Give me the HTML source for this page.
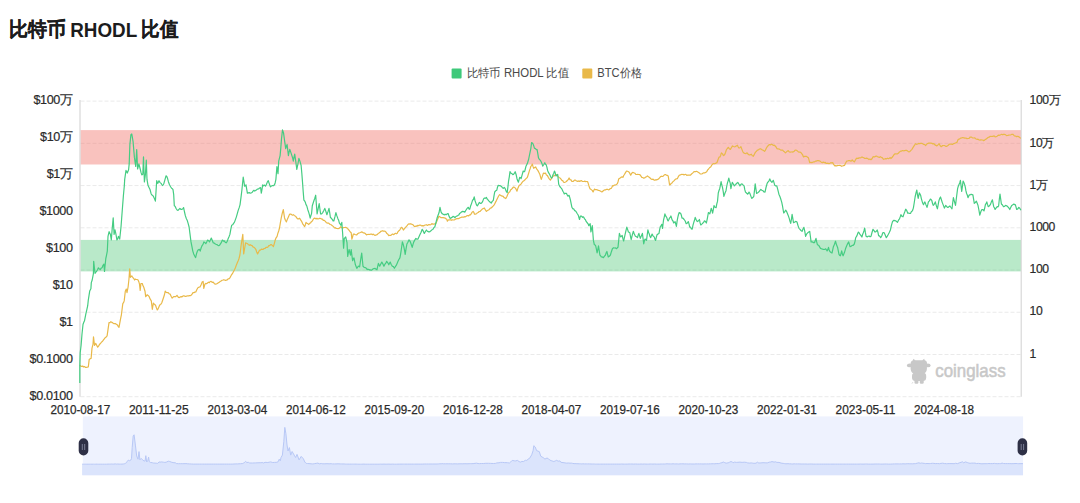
<!DOCTYPE html>
<html><head><meta charset="utf-8">
<style>
html,body{margin:0;padding:0;background:#fff;}
body{width:1080px;height:503px;overflow:hidden;position:relative;font-family:"Liberation Sans",sans-serif;}
svg{position:absolute;left:0;top:0;}
.g{stroke:#eaeaea;stroke-width:1;stroke-dasharray:4 2;}
.yl{font-size:12.6px;fill:#2a2a2a;letter-spacing:-0.35px;stroke:#2a2a2a;stroke-width:0.2px;}
.yr{font-size:12.2px;fill:#2a2a2a;letter-spacing:-0.45px;stroke:#2a2a2a;stroke-width:0.2px;}
.xl{font-size:12.3px;fill:#2a2a2a;stroke:#2a2a2a;stroke-width:0.25px;}
.t{font-size:20px;font-weight:bold;fill:#1c1c1c;}
.lg{font-size:12px;fill:#4a4a4a;}
</style></head><body>
<svg width="1080" height="503" viewBox="0 0 1080 503">
<text x="8.9" y="35.5" class="t" stroke="#1c1c1c" stroke-width="0.2" font-size="19.5px" textLength="56.9" lengthAdjust="spacingAndGlyphs">比特币</text>
<text x="70.2" y="36.6" class="t" textLength="67" lengthAdjust="spacingAndGlyphs">RHODL</text>
<text x="141" y="35.6" class="t" stroke="#1c1c1c" stroke-width="0.2" font-size="19.5px" textLength="37" lengthAdjust="spacingAndGlyphs">比值</text>
<rect x="451.6" y="68.6" width="10" height="10" rx="1" fill="#3ec97a"/>
<text x="466.6" y="77.4" class="lg" textLength="102.6" lengthAdjust="spacingAndGlyphs">比特币 RHODL 比值</text>
<rect x="582.3" y="68.5" width="10" height="10" rx="1" fill="#e9b949"/>
<text x="597.3" y="77.4" class="lg" textLength="44.6" lengthAdjust="spacingAndGlyphs">BTC价格</text>
<line x1="80.5" y1="101.10" x2="1021.0" y2="101.10" class="g"/>
<line x1="80.5" y1="143.33" x2="1021.0" y2="143.33" class="g"/>
<line x1="80.5" y1="185.56" x2="1021.0" y2="185.56" class="g"/>
<line x1="80.5" y1="227.79" x2="1021.0" y2="227.79" class="g"/>
<line x1="80.5" y1="270.01" x2="1021.0" y2="270.01" class="g"/>
<line x1="80.5" y1="312.24" x2="1021.0" y2="312.24" class="g"/>
<line x1="80.5" y1="354.47" x2="1021.0" y2="354.47" class="g"/>
<line x1="80.5" y1="396.70" x2="1021.0" y2="396.70" class="g"/>
<rect x="80.5" y="130.1" width="940.5" height="34.4" fill="rgba(242,120,110,0.45)"/>
<rect x="80.5" y="239.9" width="940.5" height="31.5" fill="rgba(80,200,120,0.4)"/>
<line x1="80" y1="100.1" x2="80" y2="396.7" stroke="#d4d4d4" stroke-width="1.1"/>
<line x1="1021.2" y1="100.1" x2="1021.2" y2="396.7" stroke="#d4d4d4" stroke-width="1.1"/>
<polyline points="79.8,365.1 80.7,366.1 81.7,366.5 82.6,366.0 83.5,367.0 84.5,366.5 85.4,367.4 86.4,367.3 87.3,367.2 88.3,367.0 89.2,359.4 90.2,358.7 91.1,358.5 92.0,348.1 93.0,344.3 93.5,336.8 94.5,345.3 95.8,343.4 96.8,345.4 97.7,347.2 98.7,345.9 99.6,344.3 100.5,343.5 101.5,342.1 102.4,341.5 103.3,340.2 104.3,338.8 105.2,337.7 106.2,337.0 107.1,335.8 108.0,329.7 109.0,322.6 110.0,322.6 110.9,321.7 111.8,322.4 112.8,322.9 113.7,323.6 114.7,323.6 115.6,323.7 116.6,324.5 117.4,324.9 118.2,326.4 119.0,327.4 120.0,321.8 120.7,318.1 121.4,314.8 122.1,309.1 122.8,303.7 123.5,302.7 124.2,300.9 125.3,291.2 126.3,289.1 127.0,292.6 128.1,287.0 129.0,278.7 129.7,268.9 130.4,277.3 131.1,276.6 131.8,275.9 132.5,277.0 133.2,278.0 133.9,278.7 134.6,280.0 135.3,279.1 136.0,279.3 137.1,279.5 138.1,280.0 138.8,281.7 139.5,284.2 140.2,290.5 140.9,283.5 141.6,283.5 142.3,283.5 143.0,285.8 143.7,287.0 145.0,291.2 145.7,296.7 146.4,295.9 147.1,294.7 148.1,295.4 149.2,296.7 150.2,299.2 151.3,300.9 152.3,309.3 153.4,303.0 154.4,304.4 155.5,305.1 156.4,307.8 157.3,310.0 158.1,308.8 158.9,307.0 159.7,305.1 160.7,304.4 161.7,303.0 162.8,299.7 163.8,296.7 164.5,294.5 165.2,291.2 166.2,292.4 167.3,292.6 168.2,292.7 169.2,293.8 170.1,294.0 171.1,296.3 172.2,298.1 172.9,297.4 173.6,296.7 174.6,296.7 175.7,296.7 177.0,295.3 177.7,296.3 178.4,297.4 179.3,297.6 180.3,296.9 181.2,296.7 182.1,296.8 183.1,295.9 184.0,295.8 184.9,296.3 185.9,296.4 186.8,296.0 187.7,295.8 188.7,295.8 189.6,295.6 190.6,295.6 191.7,294.7 193.0,292.6 193.9,292.6 194.9,292.1 195.8,291.9 196.9,289.5 197.9,287.7 198.9,287.2 200.0,287.0 201.1,284.8 202.1,282.1 203.1,281.4 203.8,288.4 204.9,284.2 205.8,283.4 206.8,283.7 207.7,282.8 208.5,282.2 209.4,282.6 210.2,281.5 211.1,281.4 212.1,282.3 213.2,282.1 214.2,283.4 215.3,284.2 216.4,283.9 217.4,283.5 218.3,282.8 219.3,282.3 220.2,281.4 221.1,281.0 222.1,280.3 223.0,280.0 223.8,279.7 224.6,280.0 225.5,280.5 226.3,280.1 227.1,280.0 228.1,278.9 229.2,278.7 230.2,277.3 231.3,275.2 232.4,273.7 233.4,271.7 234.4,270.0 235.5,267.5 236.6,264.4 237.6,262.0 238.3,260.5 239.0,258.5 239.9,255.0 240.9,247.0 241.9,240.0 242.8,234.4 243.7,253.9 244.6,248.5 245.6,242.8 246.5,243.2 247.5,243.7 248.4,244.6 249.3,245.3 250.2,244.7 251.2,245.4 252.1,245.6 253.0,246.9 253.9,247.2 254.9,248.1 255.8,249.3 256.7,252.0 257.6,253.9 258.6,252.0 259.5,250.2 260.4,250.2 261.4,249.2 262.3,249.4 263.2,249.3 264.1,248.5 265.0,248.5 266.0,247.4 266.9,247.4 267.8,247.2 268.8,245.5 269.7,245.6 270.6,244.6 271.5,244.7 272.5,245.6 273.4,246.5 274.3,243.6 275.2,240.0 276.1,237.8 277.1,236.3 277.9,233.2 278.7,231.0 279.5,228.0 280.4,222.7 281.3,217.7 282.3,213.2 283.3,209.7 284.5,217.7 285.4,220.3 286.4,221.9 287.5,218.9 288.6,216.6 289.3,214.8 290.0,214.0 290.8,214.1 291.7,214.7 292.5,215.1 293.4,214.7 294.2,215.4 295.1,216.1 295.9,216.6 296.8,218.0 297.7,218.9 298.7,218.8 299.7,218.2 300.8,220.2 301.8,221.7 302.7,223.8 303.7,225.2 304.6,226.6 305.3,224.9 306.0,222.4 306.9,223.3 307.9,223.8 308.8,224.5 309.7,223.3 310.6,222.9 311.4,221.7 312.3,221.0 313.3,219.2 314.3,218.2 315.2,218.3 316.1,219.0 316.9,218.3 317.8,218.9 318.9,218.6 319.9,218.2 320.7,218.5 321.6,219.1 322.4,219.1 323.3,220.4 324.1,220.3 325.1,221.1 326.2,222.4 327.0,222.9 327.9,223.2 328.7,223.1 329.6,224.1 330.4,224.5 331.2,224.8 332.0,225.4 332.9,226.1 333.7,226.9 334.5,228.0 335.4,227.7 336.2,228.5 337.1,228.5 338.0,228.7 338.9,228.5 339.9,227.8 340.8,226.6 341.9,227.8 342.9,228.0 343.8,227.5 344.8,227.5 345.7,227.3 346.6,227.7 347.5,228.7 348.4,229.3 349.3,230.6 350.3,232.0 351.2,232.8 351.9,239.1 352.6,236.9 353.3,234.2 354.2,234.1 355.1,234.5 355.9,234.8 356.8,234.9 357.7,233.7 358.7,233.0 359.6,232.8 360.5,232.5 361.5,231.9 362.4,232.1 363.2,232.9 364.0,232.9 364.9,233.3 365.7,234.0 366.5,234.9 367.3,234.5 368.2,234.3 369.0,234.5 369.9,234.3 370.7,234.2 371.6,234.1 372.6,234.6 373.5,234.2 374.4,235.1 375.4,235.3 376.3,234.9 377.2,234.6 378.1,233.6 379.0,233.1 379.8,232.6 380.7,231.4 381.6,231.2 382.5,230.7 383.4,231.1 384.2,231.0 385.1,231.3 386.0,232.1 386.9,233.6 387.9,234.3 388.8,235.6 389.6,235.3 390.5,235.5 391.3,234.9 392.2,234.2 393.0,234.2 393.8,234.6 394.6,233.8 395.5,233.3 396.3,233.8 397.1,233.5 397.9,231.8 398.8,230.8 399.6,230.2 400.5,228.7 401.3,227.3 402.4,228.1 403.4,230.0 404.3,228.9 405.1,227.9 406.0,226.9 406.9,225.9 407.9,224.5 409.0,223.8 409.9,224.1 410.7,223.7 411.5,224.1 412.4,224.5 413.3,225.1 414.3,226.4 415.2,226.6 416.0,225.9 416.9,226.3 417.7,225.4 418.6,225.6 419.4,225.2 420.2,225.2 421.1,225.4 421.9,225.9 422.8,225.6 423.6,225.9 424.5,225.3 425.4,225.0 426.4,224.7 427.3,225.4 428.2,224.9 429.1,224.5 430.0,224.9 431.0,224.5 431.9,223.6 432.8,224.2 433.8,224.2 434.7,223.8 435.6,224.0 436.6,221.8 437.7,219.1 439.0,216.3 440.1,217.0 441.1,217.7 442.1,217.5 443.2,217.7 444.2,217.9 445.3,218.1 446.0,218.9 446.7,219.1 447.4,221.2 448.1,220.2 448.8,219.8 449.7,219.8 450.6,219.8 451.4,220.3 452.3,219.8 453.1,220.0 454.0,219.9 454.9,219.6 455.7,219.1 456.6,218.7 457.4,218.5 458.3,218.6 459.2,218.4 460.1,217.7 461.1,217.4 462.0,217.0 462.8,217.1 463.7,217.2 464.5,216.7 465.4,216.8 466.2,216.3 467.0,215.6 467.9,215.6 468.7,216.0 469.6,214.8 470.4,214.9 471.3,213.6 472.2,212.1 473.1,211.4 473.8,212.3 474.5,214.2 475.4,214.2 476.4,213.8 477.3,212.8 478.2,212.5 479.2,211.5 480.1,211.4 481.0,210.3 482.0,209.3 482.9,208.7 483.6,208.5 484.3,208.0 485.4,209.9 486.4,211.4 487.4,210.6 488.4,210.0 489.3,209.4 490.3,208.2 491.2,208.0 492.2,207.0 493.3,205.9 494.4,204.6 495.4,202.4 496.4,200.6 497.5,198.2 498.6,196.0 499.6,194.7 500.5,195.2 501.5,195.9 502.4,196.1 503.2,196.4 504.1,197.7 504.9,197.9 505.8,198.5 506.9,196.5 507.9,194.0 508.8,192.5 509.8,191.7 510.7,189.8 511.6,189.2 512.6,188.0 513.5,187.0 514.5,187.3 515.6,188.4 516.3,189.7 517.0,191.2 518.0,187.9 519.0,185.7 519.9,184.9 520.9,184.3 521.8,182.9 522.8,181.5 523.9,180.8 525.0,179.8 526.0,178.7 526.7,178.0 527.4,177.3 528.5,173.7 529.5,170.4 530.2,168.5 530.9,166.2 531.6,165.6 532.3,164.1 533.0,166.4 533.7,168.3 534.7,167.6 535.7,166.9 536.8,169.2 537.8,170.4 538.8,172.3 539.9,174.5 540.6,177.2 541.3,179.4 542.3,176.4 543.4,173.1 544.5,173.4 545.5,173.1 546.4,174.9 547.4,175.6 548.3,177.3 549.3,178.8 550.4,180.1 551.3,178.6 552.2,177.5 553.1,175.9 554.0,176.0 555.0,175.1 555.9,174.5 556.7,174.7 557.6,175.9 558.4,176.8 559.3,177.7 560.1,178.0 561.0,179.2 561.9,180.4 562.7,180.6 563.6,182.2 564.5,182.5 565.5,182.0 566.4,181.5 567.3,180.5 568.2,179.6 569.1,178.0 570.0,179.6 571.0,179.9 571.9,181.5 572.8,181.5 573.6,181.1 574.5,180.1 575.4,180.1 576.2,180.8 577.0,181.1 577.8,181.5 578.7,180.9 579.7,181.4 580.6,180.8 581.5,180.6 582.4,181.4 583.3,181.5 584.1,181.4 585.0,181.2 585.8,181.6 586.7,181.5 587.5,181.5 588.2,183.3 588.9,185.7 589.6,187.9 590.3,189.1 591.2,189.6 592.2,190.4 593.1,191.9 593.8,190.5 594.5,189.1 595.4,189.7 596.4,189.7 597.3,189.8 598.3,190.4 599.3,190.5 600.2,191.0 601.2,191.6 602.1,191.9 603.0,191.0 604.0,190.2 604.9,189.8 605.8,189.8 606.6,189.3 607.5,189.3 608.4,189.8 609.3,189.6 610.3,188.5 611.2,188.4 611.9,187.3 612.6,185.7 613.5,185.8 614.5,185.1 615.4,185.0 616.4,184.5 617.4,183.6 618.1,181.5 618.8,178.7 619.8,178.4 620.9,177.3 622.0,176.9 623.0,177.3 623.7,175.5 624.4,174.5 625.5,172.6 626.5,171.0 627.5,171.3 628.6,171.7 629.7,173.2 630.7,175.2 631.7,173.3 632.7,172.4 633.8,172.8 634.8,173.1 635.8,174.3 636.9,174.5 637.8,174.4 638.8,174.5 639.7,174.5 640.8,175.8 641.8,177.3 642.7,177.5 643.7,178.2 644.6,178.0 645.5,177.1 646.5,176.8 647.4,175.9 648.3,176.6 649.2,177.3 650.1,178.0 651.2,179.2 652.2,179.4 653.1,179.2 654.1,180.2 655.0,180.1 655.9,179.7 656.9,179.8 657.8,179.4 658.7,178.8 659.7,177.7 660.6,176.6 661.5,176.2 662.5,176.5 663.4,175.9 664.4,174.8 665.4,174.5 666.3,175.1 667.3,175.3 668.2,175.9 668.9,180.5 669.6,185.0 670.3,184.7 671.0,183.6 672.0,182.9 673.1,181.5 674.2,180.6 675.2,179.4 676.2,178.8 677.3,178.7 678.3,176.7 679.4,175.2 680.3,174.9 681.2,174.4 682.1,174.5 683.0,174.3 684.0,175.0 684.9,174.5 685.8,174.3 686.8,175.3 687.7,175.2 688.6,175.1 689.6,175.1 690.5,175.2 691.5,174.0 692.6,173.1 693.7,171.9 694.7,171.7 695.6,171.7 696.5,171.3 697.4,171.7 698.3,172.3 699.3,172.9 700.2,173.8 701.1,174.0 702.1,173.8 703.0,173.1 703.9,172.8 704.9,172.8 705.8,172.4 706.7,171.7 707.7,169.9 708.6,169.0 709.7,167.5 710.7,166.9 711.7,165.2 712.7,164.1 713.6,163.5 714.6,163.8 715.5,163.4 716.2,162.9 716.9,162.7 718.0,159.7 719.0,157.1 720.0,157.0 720.7,155.2 721.4,152.8 722.5,153.9 723.5,155.6 724.2,155.2 724.9,154.2 725.6,152.2 726.3,150.0 727.3,148.5 728.3,147.3 729.3,148.7 730.4,149.4 731.5,147.5 732.5,145.9 733.4,146.5 734.4,146.8 735.3,146.6 736.3,145.9 737.4,145.2 738.1,146.8 738.8,148.0 739.8,147.8 740.9,146.6 742.0,149.6 743.0,152.1 744.0,153.1 745.0,153.5 746.0,153.6 747.1,152.8 748.2,154.3 749.2,154.9 750.2,154.8 751.3,154.2 752.3,155.8 753.4,156.3 754.5,154.0 755.5,152.1 756.5,151.2 757.6,150.0 758.5,149.8 759.5,149.0 760.4,148.7 761.4,149.2 762.4,150.0 763.5,150.3 764.5,151.4 765.4,150.3 766.4,148.0 767.3,146.6 768.3,145.5 769.4,144.5 770.3,144.9 771.3,144.2 772.2,144.5 773.2,145.4 774.3,145.2 775.2,146.0 776.1,147.0 777.0,148.7 777.9,148.8 778.9,149.0 779.8,149.4 780.7,150.1 781.7,150.2 782.6,150.0 783.5,151.2 784.5,151.8 785.4,152.8 786.3,152.1 787.3,151.1 788.2,150.7 789.2,151.8 790.3,152.1 791.2,152.0 792.1,151.9 793.0,152.1 793.9,151.6 794.9,150.3 795.8,150.0 796.8,150.5 797.9,151.4 799.0,152.2 800.0,152.1 801.0,152.7 802.1,154.2 802.8,155.2 803.5,157.0 804.4,156.4 805.4,156.3 806.3,156.3 807.3,156.9 808.4,157.7 809.7,162.6 810.8,162.3 811.8,162.6 812.7,162.2 813.7,161.9 814.6,161.9 815.5,161.1 816.5,161.1 817.4,160.5 818.3,160.6 819.3,160.8 820.2,161.2 821.2,162.2 822.3,162.6 823.3,162.1 824.4,162.6 825.3,162.4 826.2,163.5 827.1,163.3 828.0,163.2 829.0,163.6 829.9,163.3 830.8,162.7 831.8,162.9 832.7,162.6 833.8,164.7 834.8,166.0 835.7,165.6 836.7,165.9 837.6,165.4 838.7,165.5 839.7,165.4 840.6,165.5 841.5,166.3 842.4,166.0 843.5,165.6 844.5,165.4 845.5,163.3 846.6,161.2 847.7,161.0 848.7,160.5 849.8,160.6 850.8,161.2 851.5,160.9 852.2,159.8 853.2,161.0 854.3,161.9 855.3,160.2 856.4,158.4 857.3,158.2 858.2,158.5 859.1,157.7 860.0,158.0 861.0,157.6 861.9,157.0 862.8,157.4 863.8,157.8 864.7,158.4 865.5,158.5 866.4,158.1 867.2,158.3 868.0,158.8 869.0,159.6 869.9,159.0 870.9,159.7 872.0,158.7 873.1,156.7 873.9,156.8 874.6,156.9 875.4,156.3 876.4,156.1 877.3,156.6 878.3,157.0 879.3,157.4 880.3,156.7 881.3,157.3 882.4,157.9 883.5,159.3 884.5,159.0 885.5,158.6 886.5,158.8 887.5,158.2 888.4,158.6 889.4,158.2 890.2,157.6 890.9,158.5 891.7,157.8 892.8,156.5 893.9,154.8 895.0,153.8 896.1,153.8 897.2,154.0 898.3,153.3 899.1,152.3 899.8,151.8 900.6,151.1 901.6,151.1 902.5,150.5 903.5,150.8 904.6,150.6 905.7,150.4 906.7,150.4 907.7,151.1 908.7,151.9 909.8,151.6 910.9,150.4 912.0,149.3 913.1,147.4 913.9,146.2 914.6,145.1 915.4,143.7 916.5,144.3 917.6,144.0 918.6,143.4 919.6,143.6 920.6,143.4 921.6,143.3 922.5,143.6 923.5,144.4 924.6,144.5 925.7,145.5 926.5,144.5 927.2,143.6 928.0,143.4 929.0,143.0 929.9,143.1 930.9,143.1 931.9,143.4 932.9,143.9 933.9,143.7 934.9,144.9 935.9,145.4 936.9,145.9 938.0,144.8 939.1,143.7 940.2,145.7 941.3,146.7 942.4,145.7 943.5,145.5 944.6,145.5 945.7,146.4 946.5,146.4 947.2,145.9 948.0,145.5 949.1,144.4 950.2,144.0 951.3,144.1 952.4,144.4 953.5,143.7 954.6,143.4 955.4,143.0 956.1,142.7 956.9,142.5 957.6,140.8 958.3,139.3 959.1,139.2 959.8,138.8 960.6,138.1 961.7,137.9 962.8,137.5 963.9,137.8 965.0,138.1 966.0,138.0 967.0,138.7 968.0,138.5 969.1,138.3 970.2,137.0 971.3,137.1 972.4,137.8 973.5,138.0 974.6,137.8 975.4,138.5 976.1,139.0 976.9,139.3 978.0,139.1 979.1,140.0 980.1,140.1 981.0,139.7 982.0,140.0 982.8,140.0 983.5,140.7 984.6,140.1 985.7,139.3 986.5,138.9 987.2,138.2 988.0,137.5 989.1,137.2 990.2,136.3 991.2,136.5 992.1,136.3 993.1,136.3 994.1,135.9 995.1,136.8 996.1,136.6 997.2,136.2 998.3,135.1 999.1,135.4 999.8,135.0 1000.6,134.8 1001.7,134.3 1002.8,134.8 1003.5,134.3 1004.3,134.4 1005.4,134.6 1006.5,135.6 1007.6,135.5 1008.7,135.1 1009.8,135.0 1010.9,134.8 1012.0,134.3 1013.1,134.4 1013.9,135.4 1014.6,136.0 1015.4,136.0 1016.5,136.6 1017.6,136.3 1018.4,136.6 1019.1,137.0 1019.9,137.5 1020.6,138.5" fill="none" stroke="#e9b949" stroke-width="1.2" stroke-linejoin="round"/>
<polyline points="79.8,383.0 79.8,366.0 80.2,352.8 81.1,345.3 82.0,334.0 83.0,324.5 83.8,322.3 84.5,320.8 85.8,314.2 86.9,309.4 87.7,305.7 88.3,300.0 89.0,295.6 89.7,291.1 90.9,288.7 91.3,282.6 92.2,280.0 93.4,273.7 93.7,261.3 95.0,273.3 95.8,272.2 96.5,271.5 97.5,269.8 98.4,267.8 99.3,268.9 100.2,269.6 101.2,268.1 102.1,267.8 103.0,265.3 103.9,264.1 104.5,271.5 105.8,258.5 106.5,255.3 107.3,251.1 108.0,236.3 109.1,231.7 110.4,234.4 111.3,240.0 112.2,228.6 113.2,217.8 114.1,234.4 115.0,229.8 116.0,234.5 116.9,240.0 117.7,238.8 118.4,236.3 119.7,239.1 121.0,227.0 121.7,217.7 122.4,208.5 123.4,195.6 124.3,186.0 124.7,179.4 126.0,170.4 127.3,173.0 128.6,169.7 129.2,163.9 129.9,144.4 130.9,134.7 131.8,134.0 133.1,141.9 134.4,157.4 135.7,166.5 136.7,149.6 137.6,169.0 138.9,163.9 140.2,169.0 141.0,172.4 141.8,174.9 142.8,174.3 143.5,156.8 144.4,182.0 145.4,174.3 146.3,160.0 147.0,179.4 148.0,185.3 149.0,187.4 150.0,189.5 151.1,193.7 152.0,195.1 153.0,195.7 153.9,197.4 154.7,199.4 155.4,201.1 156.7,180.7 157.7,183.4 159.0,180.7 160.1,182.6 161.1,183.4 161.8,184.5 162.5,185.5 163.2,184.8 163.9,183.4 164.9,179.8 166.0,175.8 166.7,176.2 167.4,177.9 168.4,181.7 169.5,184.8 170.6,186.7 171.6,188.3 172.3,188.7 173.0,189.7 173.7,194.6 174.3,205.7 175.2,206.4 176.1,208.5 177.1,210.0 178.0,210.4 178.9,209.4 179.9,208.5 180.8,209.3 181.7,209.4 182.6,209.0 183.6,207.6 184.5,212.0 185.4,215.9 186.4,218.8 187.3,220.6 188.2,223.7 189.1,227.0 190.1,234.9 191.0,241.9 191.9,246.4 192.8,251.1 193.7,253.9 194.7,256.0 195.6,257.6 196.5,253.8 197.4,251.1 198.4,249.7 199.3,249.3 200.2,251.1 201.1,248.0 202.1,245.6 203.0,244.4 203.9,241.9 204.9,242.7 205.8,243.7 206.7,242.0 207.6,240.0 208.6,240.7 209.5,241.9 210.4,240.0 211.3,238.1 212.2,240.3 213.2,242.8 214.1,243.0 215.0,243.7 215.9,244.3 216.9,244.6 217.8,245.2 218.7,245.6 219.6,245.2 220.6,243.7 221.5,242.1 222.4,240.0 223.4,241.1 224.3,240.9 225.2,242.3 226.1,242.8 227.1,241.6 228.0,239.1 228.9,237.0 229.9,234.4 230.8,229.3 231.7,225.2 232.6,224.8 233.6,223.3 234.5,222.1 235.4,219.6 236.3,217.1 237.3,213.6 238.2,210.4 239.1,207.9 240.0,204.8 241.0,197.4 241.9,190.0 243.2,177.2 243.9,181.3 244.6,186.2 245.3,186.0 246.0,184.8 246.7,189.1 247.4,193.2 248.3,192.9 249.3,192.6 250.2,193.2 251.1,193.0 252.1,192.5 253.0,191.1 253.9,190.3 254.8,191.1 255.7,190.4 256.6,189.8 257.6,189.0 258.5,189.0 259.6,188.0 260.6,187.6 261.3,193.2 262.0,189.4 262.7,184.8 263.6,185.8 264.6,185.1 265.5,186.2 266.4,184.5 267.4,181.9 268.3,180.7 269.4,184.1 270.4,186.9 271.4,186.0 272.4,185.5 273.4,185.7 274.5,184.8 275.2,182.7 275.9,179.3 276.9,166.7 278.0,173.7 278.7,161.2 279.4,158.4 280.1,155.6 280.8,147.9 281.5,138.9 282.5,129.9 283.6,133.3 284.7,141.7 285.7,148.7 286.4,146.3 287.1,144.5 288.4,155.6 289.1,151.9 289.8,149.4 290.9,152.6 291.9,155.6 292.6,157.7 293.3,161.2 294.0,157.3 294.7,154.2 295.8,161.7 296.8,169.5 297.9,164.1 298.9,158.4 300.0,161.4 301.1,165.3 301.8,173.0 302.5,182.0 303.2,191.6 303.9,200.1 304.6,200.9 305.3,202.2 306.0,204.6 306.7,205.7 307.8,209.7 308.8,212.6 309.5,215.2 310.2,218.2 310.9,215.7 311.6,213.3 312.3,205.7 313.1,203.3 313.9,200.8 314.8,198.2 315.7,195.2 316.4,204.7 317.1,214.0 318.1,208.9 319.2,203.6 319.9,209.0 320.6,214.0 321.6,213.9 322.7,212.6 323.8,210.5 324.8,208.4 325.9,211.5 326.9,214.7 327.9,211.9 329.0,208.4 329.7,212.6 330.4,217.5 331.4,218.3 332.4,219.6 333.1,221.0 333.8,221.0 334.9,216.9 335.9,212.7 336.9,215.9 338.0,218.9 338.7,220.3 339.4,223.1 340.1,224.0 340.8,225.2 341.8,222.4 342.6,232.8 343.6,248.1 344.3,238.4 345.0,237.8 345.7,237.0 347.0,242.6 347.7,256.5 348.4,252.3 349.1,249.5 349.8,252.5 350.5,255.1 351.2,249.5 351.9,255.3 352.6,260.7 353.3,258.7 354.0,257.9 354.7,261.5 355.4,264.8 356.1,266.5 356.8,268.3 357.5,267.5 358.2,266.2 358.9,266.3 359.6,266.9 360.6,260.2 361.7,253.0 363.0,266.2 364.1,267.2 365.1,267.6 366.1,268.0 367.2,269.7 368.1,269.1 369.1,269.9 370.0,269.7 371.1,270.3 372.1,269.7 373.0,268.9 374.0,268.7 374.9,268.3 375.9,269.1 377.0,269.7 377.7,266.3 378.4,263.4 379.7,266.2 380.8,264.0 381.8,262.1 382.9,263.9 383.9,266.2 384.8,264.4 385.8,263.1 386.7,261.4 387.8,262.8 388.8,264.8 389.5,263.3 390.2,262.1 391.2,264.5 392.3,266.2 393.4,266.6 394.4,268.3 395.3,266.8 396.2,265.4 397.1,263.4 398.0,261.3 399.0,259.3 399.9,257.9 400.6,254.1 401.3,249.5 402.4,241.9 403.1,243.9 403.8,246.7 404.5,250.1 405.2,254.4 406.0,249.1 406.9,244.0 407.9,242.2 409.0,239.8 410.1,241.3 411.1,244.0 412.2,247.4 413.0,244.4 413.8,241.9 414.9,239.9 415.9,238.4 416.9,239.2 418.0,239.1 419.1,236.6 420.1,234.2 421.1,232.2 422.2,229.3 423.2,230.9 424.3,233.5 425.4,231.5 426.4,230.0 427.1,230.9 427.8,231.4 428.9,232.0 430.0,231.6 430.9,230.8 431.9,229.8 432.8,229.5 433.9,227.6 434.9,226.7 435.6,224.0 436.3,221.2 437.0,218.3 437.7,216.3 439.0,212.8 440.0,207.3 441.1,212.1 442.1,213.6 443.2,214.2 444.1,214.9 445.1,214.2 446.0,214.9 447.1,213.9 448.1,213.5 449.1,216.4 450.2,218.4 451.1,217.9 452.1,217.4 453.0,216.3 454.0,216.8 455.0,217.7 455.9,216.5 456.9,216.0 457.8,215.6 458.7,215.1 459.7,213.4 460.6,212.8 461.6,211.9 462.7,211.4 463.8,211.6 464.8,212.1 465.9,210.3 466.9,208.7 467.6,207.9 468.3,207.3 469.0,208.9 469.7,209.3 470.7,205.7 471.7,203.1 472.5,200.3 473.4,199.5 474.2,196.8 475.0,200.5 475.9,203.1 476.6,205.2 477.3,205.9 478.4,204.1 479.4,202.4 480.4,203.4 481.5,203.1 482.6,201.6 483.6,198.9 484.5,198.0 485.5,198.3 486.4,197.5 487.4,199.4 488.4,200.3 489.3,201.5 490.3,202.2 491.2,203.1 492.2,201.4 493.3,200.3 494.0,195.9 494.7,192.0 495.8,190.7 496.8,190.2 497.5,187.1 498.2,185.3 499.2,185.6 500.3,185.7 501.4,186.4 502.4,187.7 503.3,188.4 504.2,187.5 505.1,188.4 506.1,191.1 507.2,192.6 507.9,187.0 508.6,180.8 509.3,176.8 510.0,171.7 511.1,173.3 512.1,173.8 512.8,174.7 513.5,174.5 514.4,173.2 515.2,171.7 516.1,174.5 517.0,178.7 517.7,180.8 518.4,182.2 519.7,177.3 520.4,177.5 521.1,178.7 522.2,174.6 523.2,171.0 523.9,171.6 524.6,171.7 525.3,169.0 526.0,166.2 526.7,164.7 527.4,163.4 528.5,159.8 529.5,155.0 530.2,151.7 530.9,148.1 531.6,142.5 532.3,143.0 533.0,143.9 533.7,145.7 534.4,148.1 535.7,148.8 536.4,149.7 537.1,149.5 537.8,153.6 538.5,157.8 539.2,159.2 539.9,159.9 540.6,160.7 541.3,162.0 542.0,163.7 542.7,166.2 543.8,164.5 544.8,162.7 545.5,164.2 546.2,164.8 546.9,167.1 547.6,170.4 548.7,172.9 549.7,174.5 550.7,176.8 551.7,178.0 552.4,176.7 553.1,174.5 553.8,173.2 554.5,171.0 555.2,172.8 555.9,175.9 556.8,175.4 557.7,174.5 558.7,184.3 559.8,186.5 560.8,187.7 561.8,188.8 562.9,191.2 563.6,192.3 564.3,194.0 565.3,193.3 566.4,193.3 567.1,194.7 567.8,196.1 569.1,195.4 569.8,197.7 570.5,200.3 571.2,203.8 571.9,207.3 572.8,208.8 573.8,208.9 574.7,210.7 575.5,210.9 576.2,211.8 577.0,213.2 578.3,215.3 579.5,219.5 580.4,216.0 581.5,216.2 582.5,217.4 583.2,216.8 583.9,217.4 584.6,219.1 585.3,219.5 586.3,221.7 587.4,223.0 588.1,223.8 588.8,225.7 589.5,224.7 590.2,223.7 590.9,232.0 591.6,228.6 592.3,225.7 593.4,240.4 594.3,244.5 595.0,244.9 595.7,245.9 596.4,249.2 597.1,252.9 597.8,249.6 598.5,245.9 599.2,250.6 599.9,255.0 600.6,255.8 601.3,257.0 602.3,256.9 603.4,257.7 604.5,256.1 605.5,255.0 606.2,252.7 606.9,251.5 607.6,254.3 608.3,257.0 609.3,256.3 610.4,255.0 611.4,251.7 612.4,248.7 613.5,247.8 614.5,248.0 615.5,247.9 616.6,248.7 617.3,247.8 618.0,247.3 618.7,240.5 619.4,233.4 620.1,235.5 620.8,236.9 621.5,236.0 622.2,235.5 622.9,238.7 623.6,241.0 624.3,238.1 625.0,234.8 625.9,230.9 626.8,227.1 627.6,229.4 628.4,232.0 629.1,232.3 629.8,232.7 630.5,236.5 631.2,239.7 632.2,235.4 633.3,231.3 634.3,234.0 635.4,236.2 636.5,236.8 637.5,237.6 638.2,235.1 638.9,233.4 639.6,235.9 640.3,238.3 641.3,236.1 642.4,233.4 643.7,243.8 644.4,240.8 645.1,239.0 645.8,239.6 646.5,240.4 647.2,235.0 647.9,229.9 648.6,232.5 649.3,234.1 650.0,236.5 650.7,237.6 651.4,235.7 652.1,234.1 653.2,236.1 654.2,236.9 654.9,239.1 655.6,240.4 656.3,237.3 657.0,234.8 658.0,234.0 659.0,233.4 659.7,229.4 660.4,226.4 661.1,225.8 661.8,224.3 662.5,228.5 663.5,220.2 664.2,217.3 664.9,213.9 665.8,216.2 666.7,217.4 667.4,219.6 668.1,220.9 668.8,219.7 669.5,218.1 670.2,217.4 670.9,216.0 671.6,218.2 672.3,220.2 673.0,221.0 673.7,223.0 674.4,222.4 675.1,221.6 676.4,226.4 677.1,221.2 677.8,217.4 678.5,214.5 679.2,212.5 679.9,213.2 680.6,213.2 681.3,215.0 682.0,218.1 683.0,218.2 684.1,219.5 685.2,221.0 686.2,223.7 687.2,223.2 688.3,221.6 689.0,223.9 689.7,227.1 690.5,227.1 691.4,229.0 692.2,229.2 693.0,225.2 693.8,222.3 694.5,220.3 695.2,217.4 696.2,219.7 697.3,221.6 698.3,221.0 699.4,219.5 700.1,222.9 700.8,225.0 701.8,224.1 702.9,223.0 703.6,222.4 704.3,220.9 705.3,221.3 706.4,223.0 707.4,218.1 708.4,212.5 709.1,213.2 709.8,213.9 710.5,211.4 711.2,208.3 711.9,210.2 712.6,213.2 713.3,209.7 714.0,205.6 715.0,207.3 716.1,207.7 716.8,203.9 717.5,201.4 718.3,192.8 719.0,190.5 719.7,188.7 720.4,185.3 721.1,181.7 721.8,185.0 722.5,187.3 723.2,191.4 723.9,196.3 725.0,193.1 726.0,190.7 726.7,186.5 727.4,183.1 728.1,180.8 728.8,178.2 729.5,181.0 730.2,183.1 730.9,188.7 731.6,185.4 732.3,182.4 733.3,184.0 734.3,185.9 735.0,185.1 735.7,184.5 736.8,183.2 737.8,182.4 738.8,184.0 739.9,185.9 741.0,184.3 742.0,183.8 743.0,184.9 744.1,185.9 744.8,189.7 745.5,192.1 746.5,193.0 747.6,194.2 748.3,193.5 749.0,192.1 749.7,193.0 750.4,194.9 751.7,198.4 752.8,197.6 753.8,196.3 754.5,190.4 755.2,183.8 755.9,188.9 756.6,193.5 757.7,192.8 758.7,192.1 759.8,190.7 760.8,189.4 761.8,190.3 762.9,190.7 764.0,192.0 765.0,192.1 766.0,187.5 767.0,183.8 767.7,182.2 768.4,181.7 769.1,180.6 769.8,178.9 770.8,181.2 771.9,182.4 772.6,181.4 773.3,180.3 774.0,182.7 774.7,185.2 775.8,185.9 776.8,185.9 777.8,189.6 778.9,194.2 780.0,196.7 781.0,199.8 781.7,202.2 782.4,205.4 783.7,213.0 784.8,211.7 785.8,210.2 786.5,211.3 787.2,213.0 788.2,215.4 789.3,218.6 790.0,221.3 790.7,223.4 791.4,219.5 792.1,214.4 792.8,218.3 793.5,222.7 794.5,222.3 795.6,221.4 796.3,221.6 797.0,222.0 798.0,225.6 799.0,228.3 800.0,229.3 801.0,230.5 802.1,231.4 803.0,229.0 803.9,227.3 804.8,231.4 805.6,236.3 806.7,233.9 807.7,232.8 808.7,232.1 809.7,231.4 810.4,236.5 811.1,241.9 812.2,241.8 813.2,242.6 813.9,242.4 814.6,242.6 815.3,240.3 816.0,238.4 816.7,241.9 817.4,244.7 818.5,245.2 819.5,246.7 820.5,248.4 821.6,248.8 822.7,249.1 823.7,249.5 824.7,249.3 825.7,248.8 826.4,249.8 827.1,250.9 827.8,249.6 828.5,247.4 829.2,250.0 829.9,251.6 831.0,252.4 832.0,253.0 832.7,249.8 833.4,246.7 834.5,244.3 835.5,241.2 836.5,244.8 837.6,247.4 838.3,250.8 839.0,254.4 839.7,255.4 840.4,255.8 841.7,250.9 842.4,254.0 843.1,255.8 843.8,254.0 844.5,252.3 845.5,248.8 846.6,246.0 847.7,243.6 848.7,241.9 849.4,244.6 850.1,246.7 851.2,246.3 852.2,245.4 853.2,245.3 854.3,244.0 855.0,241.3 855.7,237.7 857.0,235.6 857.7,233.5 858.4,232.1 859.1,232.7 859.8,234.2 860.8,235.3 861.9,237.0 862.6,234.5 863.3,232.8 864.0,230.7 864.7,228.0 865.4,232.7 866.1,236.3 867.2,236.9 868.2,236.3 869.1,236.0 870.1,236.8 871.0,236.3 872.0,232.5 873.0,229.3 874.0,230.6 875.1,232.1 876.2,231.4 877.2,230.0 877.9,232.2 878.6,235.6 879.7,236.1 880.7,237.7 881.8,235.7 882.8,232.8 883.5,232.5 884.2,232.8 885.2,235.0 886.3,237.7 887.3,236.1 888.4,234.2 889.4,232.3 890.4,230.0 891.5,225.2 892.5,221.7 893.2,220.8 893.9,220.3 895.0,220.6 896.0,221.0 896.7,221.7 897.4,222.4 898.5,220.2 899.5,218.9 900.2,216.9 900.9,214.7 902.0,216.4 903.0,216.8 903.9,214.1 904.8,211.8 905.7,209.2 906.8,210.7 907.8,213.3 908.7,213.0 909.7,213.5 910.6,213.3 911.3,211.8 912.0,211.3 912.7,210.1 913.4,207.8 914.2,203.0 915.1,197.0 916.0,192.9 916.8,190.0 917.5,194.8 918.2,198.4 919.3,192.8 920.0,194.0 920.7,195.6 921.4,198.8 922.1,201.2 922.8,203.3 923.5,204.7 924.2,203.0 924.9,201.9 926.0,204.9 927.0,207.4 927.7,204.9 928.4,201.9 929.4,200.9 930.4,199.1 931.1,199.5 931.8,200.5 932.5,203.3 933.2,205.4 934.2,204.3 935.3,201.9 936.3,205.6 937.4,208.8 938.1,205.1 938.8,201.2 939.6,198.6 940.5,197.0 941.4,199.8 942.3,202.6 943.3,205.1 944.4,208.1 945.7,205.4 946.8,206.7 947.8,207.4 948.8,206.9 949.9,206.0 951.0,207.5 952.0,208.8 952.7,202.8 953.4,197.7 954.5,201.8 955.5,205.4 956.5,197.2 957.6,188.7 958.3,186.2 959.0,184.5 959.7,182.9 960.4,180.3 961.7,191.4 962.4,186.4 963.1,181.0 964.2,183.3 965.2,186.6 965.9,190.7 966.6,193.5 967.3,195.1 968.0,197.7 968.7,196.1 969.4,194.9 970.2,194.9 971.1,194.2 972.0,194.7 972.9,194.9 973.6,199.2 974.3,203.3 975.3,202.5 976.4,201.2 977.2,203.2 978.0,205.4 978.9,210.0 979.8,215.1 980.8,211.8 981.9,209.5 983.0,209.6 984.0,210.9 984.7,208.1 985.4,204.7 986.1,203.7 986.8,201.9 987.5,204.4 988.2,206.7 989.2,206.0 990.3,204.7 991.3,202.1 992.4,199.8 993.7,206.7 994.4,207.8 995.1,209.5 996.2,207.9 997.2,206.7 997.9,206.9 998.6,206.0 999.3,199.5 1000.0,194.2 1000.7,199.1 1001.4,204.0 1002.5,205.0 1003.5,206.7 1004.5,206.4 1005.6,205.4 1006.7,205.8 1007.7,206.7 1008.8,207.9 1009.8,209.5 1010.8,207.3 1011.8,205.4 1012.8,204.8 1013.9,204.0 1014.6,204.7 1015.3,204.7 1016.0,206.9 1016.7,209.5 1017.8,208.9 1018.8,207.4 1019.8,208.3 1020.9,210.2" fill="none" stroke="#45cc82" stroke-width="1.2" stroke-linejoin="round"/>
<text x="72.7" y="104.10" class="yl" text-anchor="end">$100万</text>
<text x="72.7" y="141.05" class="yl" text-anchor="end">$10万</text>
<text x="72.7" y="178.00" class="yl" text-anchor="end">$1万</text>
<text x="72.7" y="214.95" class="yl" text-anchor="end">$1000</text>
<text x="72.7" y="251.90" class="yl" text-anchor="end">$100</text>
<text x="72.7" y="288.85" class="yl" text-anchor="end">$10</text>
<text x="72.7" y="325.80" class="yl" text-anchor="end">$1</text>
<text x="72.7" y="362.75" class="yl" text-anchor="end">$0.1000</text>
<text x="72.7" y="399.70" class="yl" text-anchor="end">$0.0100</text>
<text x="1029.6" y="104.30" class="yr">100万</text>
<text x="1029.6" y="146.53" class="yr">10万</text>
<text x="1029.6" y="188.76" class="yr">1万</text>
<text x="1029.6" y="230.99" class="yr">1000</text>
<text x="1029.6" y="273.21" class="yr">100</text>
<text x="1029.6" y="315.44" class="yr">10</text>
<text x="1029.6" y="357.67" class="yr">1</text>
<text x="50.40" y="414" class="xl" textLength="59.8" lengthAdjust="spacingAndGlyphs">2010-08-17</text>
<text x="128.92" y="414" class="xl" textLength="59.8" lengthAdjust="spacingAndGlyphs">2011-11-25</text>
<text x="207.44" y="414" class="xl" textLength="59.8" lengthAdjust="spacingAndGlyphs">2013-03-04</text>
<text x="285.96" y="414" class="xl" textLength="59.8" lengthAdjust="spacingAndGlyphs">2014-06-12</text>
<text x="364.48" y="414" class="xl" textLength="59.8" lengthAdjust="spacingAndGlyphs">2015-09-20</text>
<text x="443.00" y="414" class="xl" textLength="59.8" lengthAdjust="spacingAndGlyphs">2016-12-28</text>
<text x="521.52" y="414" class="xl" textLength="59.8" lengthAdjust="spacingAndGlyphs">2018-04-07</text>
<text x="600.04" y="414" class="xl" textLength="59.8" lengthAdjust="spacingAndGlyphs">2019-07-16</text>
<text x="678.56" y="414" class="xl" textLength="59.8" lengthAdjust="spacingAndGlyphs">2020-10-23</text>
<text x="757.08" y="414" class="xl" textLength="59.8" lengthAdjust="spacingAndGlyphs">2022-01-31</text>
<text x="835.60" y="414" class="xl" textLength="59.8" lengthAdjust="spacingAndGlyphs">2023-05-11</text>
<text x="914.12" y="414" class="xl" textLength="59.8" lengthAdjust="spacingAndGlyphs">2024-08-18</text>
<g fill="#c8c8c8">
<path d="M913.2,360.2 L924.8,360.2 Q927.2,360.6 927,364 L926.9,369 Q926.6,373.6 922,374 L915.4,374 Q911,373.6 910.6,369 L910.6,364 Q910.6,360.6 913.2,360.2 Z"/>
<ellipse cx="909.6" cy="365.4" rx="2.7" ry="1.9"/>
<ellipse cx="927.9" cy="365.4" rx="2.7" ry="1.9"/>
<path d="M912.6,361.5 L913.4,358.8 L915.6,360.6 Z M925,361.5 L924.2,358.8 L922,360.6 Z"/>
<rect x="912" y="372.5" width="14.2" height="8.6" rx="3.6"/>
<rect x="914.5" y="378" width="3.9" height="5.8" rx="1.2"/>
<rect x="919.8" y="378" width="3.9" height="5.8" rx="1.2"/>
<path d="M911.2,383.6 L912.8,382.2 L913.4,383 Z"/>
<text x="935.3" y="377.3" font-size="18.5px" stroke="#c8c8c8" stroke-width="0.55" textLength="70.3" lengthAdjust="spacingAndGlyphs">coinglass</text>
</g>
<rect x="82.8" y="416.4" width="940.3" height="58.8" fill="#eef2fe"/>
<polygon points="82.1,475.2 82.1,464.2 82.1,464.2 82.5,464.2 83.4,464.2 84.3,464.2 85.3,464.2 86.8,464.2 88.1,464.2 89.2,464.2 90.0,464.2 90.6,464.2 92.0,464.2 93.2,464.2 93.6,464.2 94.5,464.2 95.7,464.2 96.0,464.1 97.3,464.2 98.8,464.2 100.7,464.2 102.5,464.2 104.4,464.2 106.2,464.2 106.8,464.2 108.1,464.1 109.6,464.1 110.3,464.1 111.4,464.0 112.7,464.1 113.6,464.1 115.5,463.9 116.4,464.1 117.3,464.0 119.2,464.1 120.7,464.1 122.0,464.1 123.3,464.0 124.7,463.7 125.7,463.2 126.6,462.5 127.0,461.7 128.3,460.1 129.6,460.7 130.9,460.0 131.5,458.4 132.2,447.5 133.2,435.9 134.1,434.8 135.4,445.1 136.7,456.0 138.0,459.2 139.0,451.6 139.9,459.8 141.2,458.4 142.5,459.8 144.1,461.0 145.1,460.9 145.8,455.7 146.7,462.0 147.7,460.9 148.6,457.1 149.3,461.7 150.3,462.4 152.3,462.7 153.4,463.0 156.2,463.2 157.7,463.4 159.0,461.9 160.0,462.2 161.3,461.9 163.4,462.2 164.8,462.4 166.2,462.2 168.3,461.2 169.7,461.5 171.8,462.3 173.9,462.7 175.3,462.8 176.0,463.1 176.6,463.6 178.4,463.7 180.3,463.7 182.2,463.7 184.0,463.7 185.9,463.6 187.7,463.8 189.6,463.9 191.4,464.0 193.3,464.1 195.1,464.1 197.9,464.1 199.7,464.1 201.6,464.1 202.5,464.1 204.4,464.1 206.2,464.1 208.1,464.1 209.9,464.1 211.8,464.1 213.6,464.1 215.5,464.1 217.3,464.1 219.2,464.1 221.0,464.1 222.9,464.1 224.7,464.1 226.6,464.1 228.4,464.1 230.3,464.1 232.2,464.1 234.0,464.0 235.9,463.9 237.7,463.9 240.5,463.7 242.3,463.6 243.3,463.2 244.2,462.8 245.5,461.4 246.9,462.5 248.3,462.3 249.7,463.0 252.5,463.0 255.3,462.9 258.0,462.8 260.8,462.7 262.9,462.6 263.6,463.0 265.0,462.3 267.8,462.5 270.6,461.9 272.7,462.5 274.7,462.4 276.8,462.3 278.2,461.7 279.2,459.2 280.3,460.8 281.0,457.5 282.4,455.1 283.8,441.7 284.8,427.4 285.9,433.6 287.0,444.9 288.0,451.0 289.4,447.6 290.7,455.1 292.1,451.5 294.2,455.1 295.6,457.5 297.0,454.4 299.1,459.9 301.2,456.4 303.4,458.8 304.8,462.0 306.2,463.4 307.6,463.5 309.0,463.6 311.1,463.8 312.5,463.9 313.9,463.8 314.6,463.6 316.2,463.4 317.9,463.1 319.3,463.8 321.4,463.5 322.8,463.8 324.9,463.8 327.0,463.7 329.1,463.8 331.2,463.7 332.6,463.9 334.6,463.9 336.0,463.9 338.1,463.8 340.2,463.9 341.6,463.9 343.0,464.0 344.0,463.9 344.8,464.0 345.8,464.1 346.5,464.1 347.9,464.1 349.2,464.1 349.9,464.1 351.3,464.1 352.7,464.1 353.4,464.1 354.8,464.1 356.2,464.1 357.6,464.2 359.0,464.2 360.4,464.2 361.8,464.2 363.9,464.1 365.2,464.2 367.3,464.2 369.4,464.2 372.2,464.2 374.3,464.2 377.1,464.2 379.2,464.2 380.6,464.1 381.9,464.2 384.0,464.1 386.1,464.2 388.9,464.1 391.0,464.2 392.4,464.1 394.5,464.2 396.6,464.2 399.3,464.1 402.1,464.1 403.5,464.1 404.6,464.1 406.0,464.1 407.4,464.1 409.1,464.1 411.2,464.1 413.3,464.1 414.4,464.1 416.0,464.1 418.1,464.1 420.2,464.1 422.3,464.1 424.4,464.0 426.5,464.0 428.6,464.0 430.0,464.0 432.2,464.0 435.0,464.0 437.1,464.0 438.5,463.9 439.9,463.8 441.2,463.8 442.2,463.6 443.3,463.8 445.4,463.8 448.2,463.8 450.3,463.8 452.4,463.9 455.2,463.8 457.2,463.9 460.0,463.8 462.8,463.8 464.9,463.7 467.0,463.8 469.1,463.7 470.5,463.6 471.9,463.7 473.9,463.5 476.4,463.2 478.1,463.5 479.5,463.6 481.6,463.5 483.7,463.5 485.8,463.3 488.6,463.3 490.6,463.4 493.4,463.5 495.5,463.4 496.9,462.9 499.0,462.8 500.4,462.4 502.5,462.4 504.6,462.6 507.3,462.7 509.4,463.0 510.8,461.9 512.2,460.4 514.3,460.8 515.7,460.9 517.4,460.4 519.2,461.6 520.6,462.1 521.9,461.4 523.3,461.6 525.4,460.3 526.8,460.4 528.2,459.1 529.6,458.3 531.7,454.8 533.1,450.6 533.8,445.7 535.2,447.0 536.6,450.6 537.9,451.1 539.3,451.6 540.7,456.1 542.1,457.0 543.5,457.8 544.9,459.1 547.0,458.0 548.4,458.7 549.8,460.1 551.9,460.9 553.9,461.5 555.3,460.9 556.7,460.3 558.1,461.2 559.9,460.9 560.9,462.3 563.0,462.6 565.1,462.9 566.5,463.1 568.6,463.0 570.0,463.2 571.3,463.1 572.7,463.4 574.1,463.6 576.9,463.7 579.2,463.8 580.5,463.8 581.7,463.9 582.6,463.8 584.7,463.9 586.1,463.9 587.5,463.9 589.6,463.9 591.0,464.0 592.4,464.0 593.1,464.0 594.5,464.0 595.6,464.1 596.5,464.1 597.9,464.1 599.3,464.1 600.7,464.1 602.1,464.1 603.5,464.1 605.6,464.1 607.7,464.1 609.1,464.1 610.5,464.1 612.6,464.1 614.6,464.1 616.7,464.1 618.8,464.1 620.2,464.1 621.6,464.0 623.0,464.1 624.4,464.1 625.8,464.1 627.2,464.1 629.0,464.0 630.6,464.0 632.0,464.0 633.4,464.1 635.5,464.0 637.6,464.1 639.7,464.1 641.1,464.0 642.5,464.1 644.6,464.0 645.9,464.1 647.3,464.1 648.7,464.1 650.1,464.0 651.5,464.0 652.9,464.1 654.3,464.0 656.4,464.1 657.8,464.1 659.2,464.1 661.2,464.0 662.6,464.0 664.0,464.0 664.7,464.0 665.7,463.9 667.1,463.8 668.9,463.9 670.3,463.9 671.7,463.9 673.1,463.8 674.5,463.9 675.9,463.9 677.3,463.9 678.6,464.0 680.0,463.9 681.4,463.8 682.8,463.8 684.2,463.9 686.3,463.9 688.4,464.0 690.5,463.9 691.9,464.0 694.4,464.0 696.0,463.9 697.4,463.9 699.5,463.9 701.6,463.9 703.0,464.0 705.1,463.9 706.5,463.9 708.6,463.9 710.6,463.8 712.0,463.8 713.4,463.7 714.8,463.8 716.2,463.6 718.3,463.6 719.7,463.4 720.5,463.0 721.9,462.7 723.3,462.0 724.7,462.6 726.1,463.2 728.2,462.8 729.6,462.2 731.0,461.5 732.4,462.2 733.1,462.7 734.5,462.1 736.5,462.4 737.9,462.3 740.0,462.1 742.1,462.4 744.2,462.2 746.3,462.4 747.7,462.9 749.8,463.1 751.2,462.9 752.6,463.1 753.9,463.3 756.0,463.2 757.4,462.2 758.8,463.0 760.9,462.9 763.0,462.7 765.1,462.8 767.2,462.9 769.2,462.2 770.6,462.0 772.0,461.6 774.1,462.1 775.5,461.8 776.9,462.4 779.0,462.4 781.1,463.1 783.2,463.4 784.6,463.6 785.9,463.8 788.0,463.7 789.3,463.8 791.4,463.9 792.8,464.0 794.2,463.8 795.6,463.9 797.7,463.9 799.1,463.9 801.1,464.0 802.1,464.0 804.2,464.0 806.0,464.0 807.7,464.1 809.8,464.0 811.8,464.0 813.2,464.1 815.3,464.1 816.7,464.1 818.1,464.1 819.5,464.1 821.6,464.1 823.7,464.1 825.8,464.1 827.8,464.1 829.2,464.1 830.6,464.1 832.0,464.1 834.1,464.1 835.5,464.1 837.6,464.1 839.7,464.1 841.1,464.1 842.5,464.1 843.8,464.1 845.2,464.1 846.6,464.1 848.7,464.1 850.8,464.1 852.2,464.1 854.3,464.1 856.4,464.1 857.8,464.1 859.1,464.1 860.5,464.0 861.9,464.1 864.0,464.1 865.4,464.0 866.8,464.0 868.2,464.1 870.3,464.1 873.1,464.1 875.1,464.0 877.2,464.0 879.3,464.0 880.7,464.1 882.8,464.1 884.9,464.0 886.3,464.0 888.4,464.1 890.5,464.1 892.5,464.0 894.6,463.9 896.0,463.9 898.1,463.9 899.5,463.9 901.6,463.9 903.0,463.8 905.1,463.9 907.8,463.7 909.9,463.8 912.7,463.8 914.1,463.7 915.5,463.6 917.2,463.2 918.9,462.8 920.3,463.3 921.4,463.0 922.8,463.2 924.2,463.4 925.6,463.6 927.0,463.5 929.1,463.6 930.5,463.5 932.5,463.3 933.9,463.4 935.3,463.6 937.4,463.5 939.5,463.7 940.9,463.4 942.6,463.2 944.4,463.5 946.5,463.7 947.8,463.6 949.9,463.6 952.0,463.6 954.1,463.7 955.5,463.3 957.6,463.6 959.7,462.7 961.1,462.3 962.5,461.8 963.8,462.9 965.2,461.9 967.3,462.5 968.7,463.0 970.1,463.3 971.5,463.1 973.2,463.1 975.0,463.1 976.4,463.5 978.5,463.4 980.1,463.6 981.9,463.8 984.0,463.7 986.1,463.7 987.5,463.6 988.9,463.5 990.3,463.6 992.4,463.6 994.5,463.4 995.8,463.6 997.2,463.7 999.3,463.6 1000.7,463.6 1002.1,463.1 1003.5,463.5 1005.6,463.6 1007.7,463.6 1009.8,463.6 1011.9,463.7 1013.9,463.6 1016.0,463.5 1017.4,463.6 1018.8,463.7 1020.9,463.6 1023.0,463.7 1023.0,475.2" fill="#dbe4fc"/>
<polyline points="82.1,464.2 82.1,464.2 82.5,464.2 83.4,464.2 84.3,464.2 85.3,464.2 86.8,464.2 88.1,464.2 89.2,464.2 90.0,464.2 90.6,464.2 92.0,464.2 93.2,464.2 93.6,464.2 94.5,464.2 95.7,464.2 96.0,464.1 97.3,464.2 98.8,464.2 100.7,464.2 102.5,464.2 104.4,464.2 106.2,464.2 106.8,464.2 108.1,464.1 109.6,464.1 110.3,464.1 111.4,464.0 112.7,464.1 113.6,464.1 115.5,463.9 116.4,464.1 117.3,464.0 119.2,464.1 120.7,464.1 122.0,464.1 123.3,464.0 124.7,463.7 125.7,463.2 126.6,462.5 127.0,461.7 128.3,460.1 129.6,460.7 130.9,460.0 131.5,458.4 132.2,447.5 133.2,435.9 134.1,434.8 135.4,445.1 136.7,456.0 138.0,459.2 139.0,451.6 139.9,459.8 141.2,458.4 142.5,459.8 144.1,461.0 145.1,460.9 145.8,455.7 146.7,462.0 147.7,460.9 148.6,457.1 149.3,461.7 150.3,462.4 152.3,462.7 153.4,463.0 156.2,463.2 157.7,463.4 159.0,461.9 160.0,462.2 161.3,461.9 163.4,462.2 164.8,462.4 166.2,462.2 168.3,461.2 169.7,461.5 171.8,462.3 173.9,462.7 175.3,462.8 176.0,463.1 176.6,463.6 178.4,463.7 180.3,463.7 182.2,463.7 184.0,463.7 185.9,463.6 187.7,463.8 189.6,463.9 191.4,464.0 193.3,464.1 195.1,464.1 197.9,464.1 199.7,464.1 201.6,464.1 202.5,464.1 204.4,464.1 206.2,464.1 208.1,464.1 209.9,464.1 211.8,464.1 213.6,464.1 215.5,464.1 217.3,464.1 219.2,464.1 221.0,464.1 222.9,464.1 224.7,464.1 226.6,464.1 228.4,464.1 230.3,464.1 232.2,464.1 234.0,464.0 235.9,463.9 237.7,463.9 240.5,463.7 242.3,463.6 243.3,463.2 244.2,462.8 245.5,461.4 246.9,462.5 248.3,462.3 249.7,463.0 252.5,463.0 255.3,462.9 258.0,462.8 260.8,462.7 262.9,462.6 263.6,463.0 265.0,462.3 267.8,462.5 270.6,461.9 272.7,462.5 274.7,462.4 276.8,462.3 278.2,461.7 279.2,459.2 280.3,460.8 281.0,457.5 282.4,455.1 283.8,441.7 284.8,427.4 285.9,433.6 287.0,444.9 288.0,451.0 289.4,447.6 290.7,455.1 292.1,451.5 294.2,455.1 295.6,457.5 297.0,454.4 299.1,459.9 301.2,456.4 303.4,458.8 304.8,462.0 306.2,463.4 307.6,463.5 309.0,463.6 311.1,463.8 312.5,463.9 313.9,463.8 314.6,463.6 316.2,463.4 317.9,463.1 319.3,463.8 321.4,463.5 322.8,463.8 324.9,463.8 327.0,463.7 329.1,463.8 331.2,463.7 332.6,463.9 334.6,463.9 336.0,463.9 338.1,463.8 340.2,463.9 341.6,463.9 343.0,464.0 344.0,463.9 344.8,464.0 345.8,464.1 346.5,464.1 347.9,464.1 349.2,464.1 349.9,464.1 351.3,464.1 352.7,464.1 353.4,464.1 354.8,464.1 356.2,464.1 357.6,464.2 359.0,464.2 360.4,464.2 361.8,464.2 363.9,464.1 365.2,464.2 367.3,464.2 369.4,464.2 372.2,464.2 374.3,464.2 377.1,464.2 379.2,464.2 380.6,464.1 381.9,464.2 384.0,464.1 386.1,464.2 388.9,464.1 391.0,464.2 392.4,464.1 394.5,464.2 396.6,464.2 399.3,464.1 402.1,464.1 403.5,464.1 404.6,464.1 406.0,464.1 407.4,464.1 409.1,464.1 411.2,464.1 413.3,464.1 414.4,464.1 416.0,464.1 418.1,464.1 420.2,464.1 422.3,464.1 424.4,464.0 426.5,464.0 428.6,464.0 430.0,464.0 432.2,464.0 435.0,464.0 437.1,464.0 438.5,463.9 439.9,463.8 441.2,463.8 442.2,463.6 443.3,463.8 445.4,463.8 448.2,463.8 450.3,463.8 452.4,463.9 455.2,463.8 457.2,463.9 460.0,463.8 462.8,463.8 464.9,463.7 467.0,463.8 469.1,463.7 470.5,463.6 471.9,463.7 473.9,463.5 476.4,463.2 478.1,463.5 479.5,463.6 481.6,463.5 483.7,463.5 485.8,463.3 488.6,463.3 490.6,463.4 493.4,463.5 495.5,463.4 496.9,462.9 499.0,462.8 500.4,462.4 502.5,462.4 504.6,462.6 507.3,462.7 509.4,463.0 510.8,461.9 512.2,460.4 514.3,460.8 515.7,460.9 517.4,460.4 519.2,461.6 520.6,462.1 521.9,461.4 523.3,461.6 525.4,460.3 526.8,460.4 528.2,459.1 529.6,458.3 531.7,454.8 533.1,450.6 533.8,445.7 535.2,447.0 536.6,450.6 537.9,451.1 539.3,451.6 540.7,456.1 542.1,457.0 543.5,457.8 544.9,459.1 547.0,458.0 548.4,458.7 549.8,460.1 551.9,460.9 553.9,461.5 555.3,460.9 556.7,460.3 558.1,461.2 559.9,460.9 560.9,462.3 563.0,462.6 565.1,462.9 566.5,463.1 568.6,463.0 570.0,463.2 571.3,463.1 572.7,463.4 574.1,463.6 576.9,463.7 579.2,463.8 580.5,463.8 581.7,463.9 582.6,463.8 584.7,463.9 586.1,463.9 587.5,463.9 589.6,463.9 591.0,464.0 592.4,464.0 593.1,464.0 594.5,464.0 595.6,464.1 596.5,464.1 597.9,464.1 599.3,464.1 600.7,464.1 602.1,464.1 603.5,464.1 605.6,464.1 607.7,464.1 609.1,464.1 610.5,464.1 612.6,464.1 614.6,464.1 616.7,464.1 618.8,464.1 620.2,464.1 621.6,464.0 623.0,464.1 624.4,464.1 625.8,464.1 627.2,464.1 629.0,464.0 630.6,464.0 632.0,464.0 633.4,464.1 635.5,464.0 637.6,464.1 639.7,464.1 641.1,464.0 642.5,464.1 644.6,464.0 645.9,464.1 647.3,464.1 648.7,464.1 650.1,464.0 651.5,464.0 652.9,464.1 654.3,464.0 656.4,464.1 657.8,464.1 659.2,464.1 661.2,464.0 662.6,464.0 664.0,464.0 664.7,464.0 665.7,463.9 667.1,463.8 668.9,463.9 670.3,463.9 671.7,463.9 673.1,463.8 674.5,463.9 675.9,463.9 677.3,463.9 678.6,464.0 680.0,463.9 681.4,463.8 682.8,463.8 684.2,463.9 686.3,463.9 688.4,464.0 690.5,463.9 691.9,464.0 694.4,464.0 696.0,463.9 697.4,463.9 699.5,463.9 701.6,463.9 703.0,464.0 705.1,463.9 706.5,463.9 708.6,463.9 710.6,463.8 712.0,463.8 713.4,463.7 714.8,463.8 716.2,463.6 718.3,463.6 719.7,463.4 720.5,463.0 721.9,462.7 723.3,462.0 724.7,462.6 726.1,463.2 728.2,462.8 729.6,462.2 731.0,461.5 732.4,462.2 733.1,462.7 734.5,462.1 736.5,462.4 737.9,462.3 740.0,462.1 742.1,462.4 744.2,462.2 746.3,462.4 747.7,462.9 749.8,463.1 751.2,462.9 752.6,463.1 753.9,463.3 756.0,463.2 757.4,462.2 758.8,463.0 760.9,462.9 763.0,462.7 765.1,462.8 767.2,462.9 769.2,462.2 770.6,462.0 772.0,461.6 774.1,462.1 775.5,461.8 776.9,462.4 779.0,462.4 781.1,463.1 783.2,463.4 784.6,463.6 785.9,463.8 788.0,463.7 789.3,463.8 791.4,463.9 792.8,464.0 794.2,463.8 795.6,463.9 797.7,463.9 799.1,463.9 801.1,464.0 802.1,464.0 804.2,464.0 806.0,464.0 807.7,464.1 809.8,464.0 811.8,464.0 813.2,464.1 815.3,464.1 816.7,464.1 818.1,464.1 819.5,464.1 821.6,464.1 823.7,464.1 825.8,464.1 827.8,464.1 829.2,464.1 830.6,464.1 832.0,464.1 834.1,464.1 835.5,464.1 837.6,464.1 839.7,464.1 841.1,464.1 842.5,464.1 843.8,464.1 845.2,464.1 846.6,464.1 848.7,464.1 850.8,464.1 852.2,464.1 854.3,464.1 856.4,464.1 857.8,464.1 859.1,464.1 860.5,464.0 861.9,464.1 864.0,464.1 865.4,464.0 866.8,464.0 868.2,464.1 870.3,464.1 873.1,464.1 875.1,464.0 877.2,464.0 879.3,464.0 880.7,464.1 882.8,464.1 884.9,464.0 886.3,464.0 888.4,464.1 890.5,464.1 892.5,464.0 894.6,463.9 896.0,463.9 898.1,463.9 899.5,463.9 901.6,463.9 903.0,463.8 905.1,463.9 907.8,463.7 909.9,463.8 912.7,463.8 914.1,463.7 915.5,463.6 917.2,463.2 918.9,462.8 920.3,463.3 921.4,463.0 922.8,463.2 924.2,463.4 925.6,463.6 927.0,463.5 929.1,463.6 930.5,463.5 932.5,463.3 933.9,463.4 935.3,463.6 937.4,463.5 939.5,463.7 940.9,463.4 942.6,463.2 944.4,463.5 946.5,463.7 947.8,463.6 949.9,463.6 952.0,463.6 954.1,463.7 955.5,463.3 957.6,463.6 959.7,462.7 961.1,462.3 962.5,461.8 963.8,462.9 965.2,461.9 967.3,462.5 968.7,463.0 970.1,463.3 971.5,463.1 973.2,463.1 975.0,463.1 976.4,463.5 978.5,463.4 980.1,463.6 981.9,463.8 984.0,463.7 986.1,463.7 987.5,463.6 988.9,463.5 990.3,463.6 992.4,463.6 994.5,463.4 995.8,463.6 997.2,463.7 999.3,463.6 1000.7,463.6 1002.1,463.1 1003.5,463.5 1005.6,463.6 1007.7,463.6 1009.8,463.6 1011.9,463.7 1013.9,463.6 1016.0,463.5 1017.4,463.6 1018.8,463.7 1020.9,463.6 1023.0,463.7" fill="none" stroke="#b8c8f6" stroke-width="1"/>
<rect x="78.7" y="438.3" width="9.6" height="17.2" rx="4.8" fill="#2e3046"/>
<line x1="82.3" y1="444" x2="82.3" y2="450" stroke="#8d91a8" stroke-width="0.8"/>
<line x1="84.7" y1="444" x2="84.7" y2="450" stroke="#8d91a8" stroke-width="0.8"/>
<rect x="1017.6" y="438.3" width="9.6" height="17.2" rx="4.8" fill="#2e3046"/>
<line x1="1021.2" y1="444" x2="1021.2" y2="450" stroke="#8d91a8" stroke-width="0.8"/>
<line x1="1023.6" y1="444" x2="1023.6" y2="450" stroke="#8d91a8" stroke-width="0.8"/>
</svg>
</body></html>
